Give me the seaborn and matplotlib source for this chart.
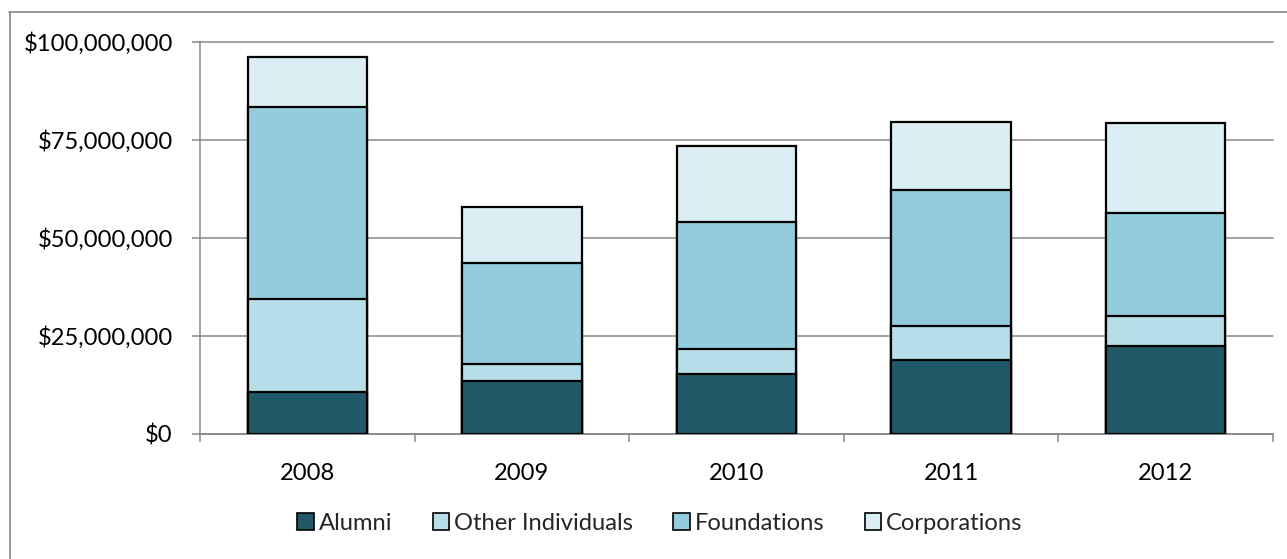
import numpy as np
import pandas as pd
import matplotlib
matplotlib.use("Agg")
import matplotlib.pyplot as plt
from matplotlib.patches import Patch
from matplotlib.lines import Line2D
from matplotlib.ticker import FuncFormatter, MultipleLocator, FixedLocator
import seaborn as sns

# Giving by source, in millions of dollars
years = ["2008", "2009", "2010", "2011", "2012"]
alumni = [10.5, 13.4, 15.2, 18.7, 22.4]
other_individuals = [23.8, 4.35, 6.4, 8.8, 7.6]
foundations = [49.0, 25.85, 32.3, 34.7, 26.2]
corporations = [12.9, 14.3, 19.6, 17.4, 23.0]

series_names = ["Alumni", "Other Individuals", "Foundations", "Corporations"]
colors = ["#215968", "#B7DEE8", "#93CDDD", "#DBEEF4"]
grey = "#878787"

sns.set_theme(style="white")
plt.rcParams["font.family"] = ["Lato", "DejaVu Sans"]
fs = 17.1

W, H = 1287, 559
fig = plt.figure(figsize=(W / 100, H / 100), dpi=100)
ax = fig.add_axes([200 / W, 1 - 433.5 / H, (1273 - 200) / W, (433.5 - 42) / H])

# stacked bars: draw running totals from the top layer down
stack = np.cumsum(np.array([alumni, other_individuals, foundations, corporations]) * 1e6, axis=0)
for i in reversed(range(len(series_names))):
    df = pd.DataFrame({"year": years, "value": stack[i]})
    sns.barplot(data=df, x="year", y="value", color=colors[i], width=0.557,
                edgecolor="black", linewidth=1.6, saturation=1, ax=ax, zorder=3)

ax.set_xlim(-0.5, 4.5)
ax.set_ylim(0, 1e8)
ax.set_xlabel("")
ax.set_ylabel("")

ax.yaxis.set_major_locator(MultipleLocator(25e6))
ax.yaxis.set_major_formatter(FuncFormatter(lambda v, p: "${:,.0f}".format(v)))
ax.yaxis.grid(True, color=grey, linewidth=1.1)
ax.set_axisbelow(True)
for gl in ax.get_ygridlines():
    gl.set_clip_on(False)

for s in ["top", "right"]:
    ax.spines[s].set_visible(False)
for s in ["left", "bottom"]:
    ax.spines[s].set_color(grey)
    ax.spines[s].set_linewidth(1.1)

ax.xaxis.set_minor_locator(FixedLocator(np.arange(-0.5, 5.0, 1.0)))
ax.tick_params(axis="x", which="major", length=0, pad=21, labelsize=fs, labelcolor="black")
ax.tick_params(axis="x", which="minor", length=5.8, width=1.1, color=grey, direction="out")
ax.tick_params(axis="y", which="major", length=5.8, width=1.1, color=grey, direction="out",
               pad=13.7, labelsize=fs, labelcolor="black", left=True)
ax.tick_params(axis="x", which="minor", bottom=True)

handles = [Patch(facecolor=c, edgecolor="black", linewidth=1.2) for c in colors]
fig.legend(handles, series_names, loc="center", bbox_to_anchor=(660 / W, 1 - 523 / H),
           ncol=4, frameon=False, fontsize=fs, handlelength=0.7, handleheight=0.7,
           handletextpad=0.2, columnspacing=1.7)

# chart area frame
fig.add_artist(Line2D([9.5 / W, 9.5 / W], [0, 1 - 12 / H], transform=fig.transFigure,
                      color=grey, lw=1.2))
fig.add_artist(Line2D([9 / W, 1], [1 - 12 / H, 1 - 12 / H], transform=fig.transFigure,
                      color=grey, lw=1.2))

fig.savefig("out.png", dpi=100)
